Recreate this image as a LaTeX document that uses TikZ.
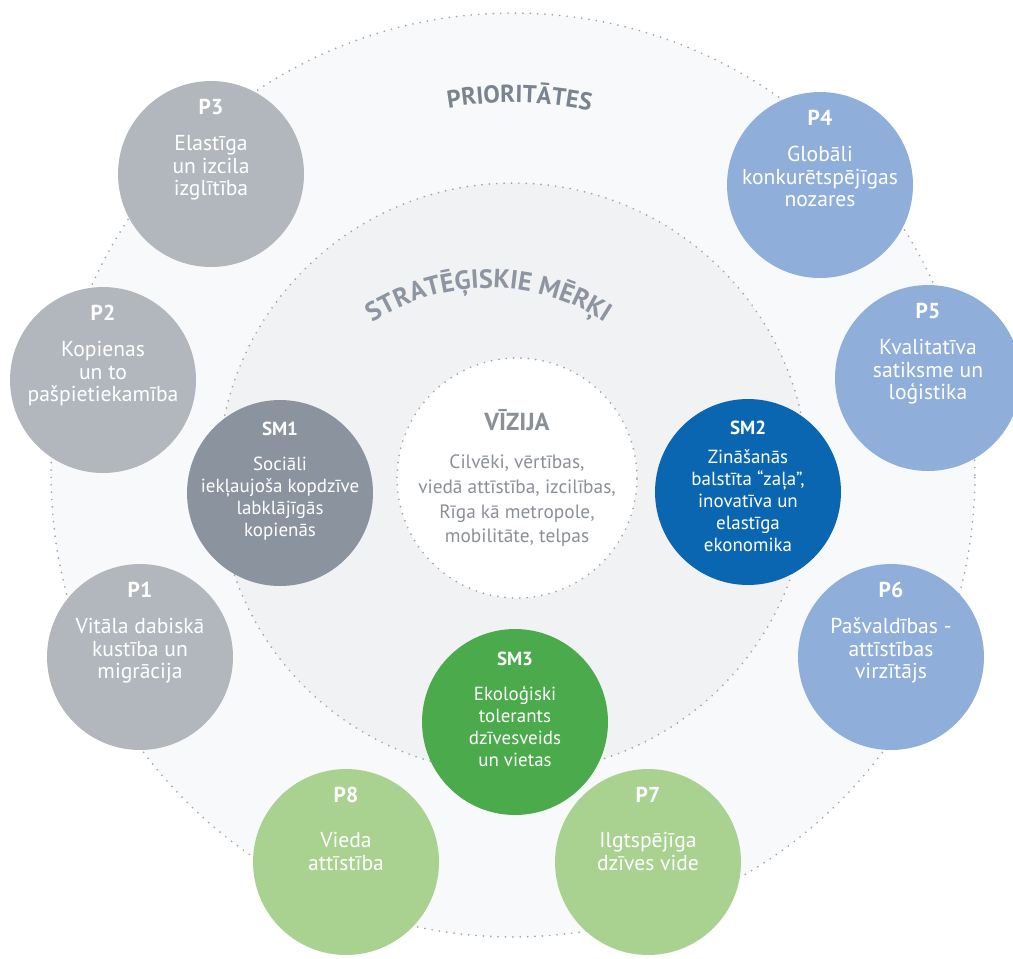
\documentclass[tikz,border=0pt]{standalone}
\usepackage{fontspec}
\setmainfont{PT Sans}
\usetikzlibrary{decorations.text}

\definecolor{outerfill}{HTML}{F8F9FA}
\definecolor{midfill}{HTML}{F1F2F4}
\definecolor{dotgray}{HTML}{A2A6AC}
\definecolor{pgray}{HTML}{B2B7BE}
\definecolor{smgray}{HTML}{8A939E}
\definecolor{pblue}{HTML}{8FAED9}
\definecolor{smblue}{HTML}{0B66B1}
\definecolor{smgreen}{HTML}{4BAA4B}
\definecolor{pgreen}{HTML}{A9D18F}
\definecolor{priorgray}{HTML}{7A8490}
\definecolor{goalgray}{HTML}{8C95A0}
\definecolor{visiongray}{HTML}{8B9097}

\begin{document}
\begin{tikzpicture}
[x=0.02cm, y=-0.02cm,
% STYLES
% The ring style is used for the dotted round borders
ring/.style={circle, draw=dotgray, line width=1.1pt, dash pattern=on 0pt off 4.2pt, line cap=round, inner sep=0pt},
% The goal style is used to draw the coloured circles
goal/.style={circle, minimum size=3.72cm, inner sep=0pt},
% The goalname style is used for the texts in the circles
goalname/.style={anchor=north, text=white, align=center, inner sep=0pt, font=\fontsize{10.8}{12.5}\selectfont},
% The priorname style is the same with a bigger font
priorname/.style={goalname, font=\fontsize{12.3}{12.8}\selectfont}]

\useasboundingbox (0,0) rectangle (1013,958);
\clip (0,0) rectangle (1013,958);

% Draw rings
\node [ring, fill=outerfill, minimum size=18.48cm] (prior) at (513,475) {};
\node [ring, fill=midfill, minimum size=11.8cm] (goals) at (513,478) {};
\node [ring, fill=white, minimum size=4.8cm] (vision) at (517,478) {};

% Curved titles
\path [decorate, decoration={text along path, text align=center,
  text={|\fontsize{14}{16}\selectfont\bfseries\color{priorgray}|PRIORITĀTES}}]
  (prior.center) ++(109:7.45cm) arc (109:69:7.45cm);
\coordinate (goalarc) at (489,502);
\path [decorate, decoration={text along path, text align=center,
  text={|\fontsize{15}{17}\selectfont\bfseries\color{goalgray}|STRATĒĢISKIE MĒRĶI}}]
  (goalarc) ++(128:4.28cm) arc (128:52:4.28cm);

% Vision
\node [anchor=base, text=visiongray, inner sep=0pt, font=\fontsize{14}{16}\selectfont\bfseries] (visiontitle) at ([shift={(0,-48)}]vision.center) {VĪZIJA};
\node [anchor=north, text=visiongray, align=center, inner sep=0pt, font=\fontsize{11}{14.2}\selectfont] (visiontext) at ([shift={(0,-24)}]vision.center) {Cilvēki, vērtības,\\ viedā attīstība, izcilības,\\ Rīga kā metropole,\\ mobilitāte, telpas};

% Draw priorities
\node [goal, fill=pgray] (p1) at (140,657) {};
\node [goal, fill=pgray] (p2) at (103,380) {};
\node [goal, fill=pgray] (p3) at (211,174) {};
\node [goal, fill=pblue] (p4) at (820,185) {};
\node [goal, fill=pblue] (p5) at (928,378) {};
\node [goal, fill=pblue] (p6) at (891,657) {};
\node [goal, fill=pgreen] (p7) at (648,862) {};
\node [goal, fill=pgreen] (p8) at (346,862) {};

% Draw strategic goals
\node [goal, fill=smgray] (sm1) at (280,493) {};
\node [goal, fill=smblue] (sm2) at (748,492) {};
\node [goal, fill=smgreen] (sm3) at (515,722) {};

% Names
\node [priorname] (p1text) at ([shift={(0,-75)}]p1.center) {\textbf{P1}\\[7.6pt] Vitāla dabiskā\\ kustība un\\ migrācija};
\node [priorname] (p2text) at ([shift={(0,-75)}]p2.center) {\textbf{P2}\\[7.6pt] Kopienas\\ un to\\ pašpietiekamība};
\node [priorname] (p3text) at ([shift={(0,-75)}]p3.center) {\textbf{P3}\\[7.6pt] Elastīga\\ un izcila\\ izglītība};
\node [priorname] (p4text) at ([shift={(0,-75)}]p4.center) {\textbf{P4}\\[7.6pt] Globāli\\ konkurētspējīgas\\ nozares};
\node [priorname] (p5text) at ([shift={(0,-75)}]p5.center) {\textbf{P5}\\[7.6pt] Kvalitatīva\\ satiksme un\\ loģistika};
\node [priorname] (p6text) at ([shift={(0,-75)}]p6.center) {\textbf{P6}\\[7.6pt] Pašvaldības -\\ attīstības\\ virzītājs};
\node [priorname] (p7text) at ([shift={(0,-75)}]p7.center) {\textbf{P7}\\[12.7pt] Ilgtspējīga\\ dzīves vide};
\node [priorname] (p8text) at ([shift={(0,-75)}]p8.center) {\textbf{P8}\\[12.7pt] Vieda\\ attīstība};
\node [goalname] (sm1text) at ([shift={(0,-71)}]sm1.center) {\textbf{SM1}\\[7.3pt] Sociāli\\ iekļaujoša kopdzīve\\ labklājīgās\\ kopienās};
\node [goalname] (sm2text) at ([shift={(0,-71)}]sm2.center) {\textbf{SM2}\\[4pt] Zināšanās\\ balstīta “zaļa”,\\ inovatīva un\\ elastīga\\ ekonomika};
\node [goalname] (sm3text) at ([shift={(0,-70)}]sm3.center) {\textbf{SM3}\\[7.3pt] Ekoloģiski\\ tolerants\\ dzīvesveids\\ un vietas};

\end{tikzpicture}
\end{document}
